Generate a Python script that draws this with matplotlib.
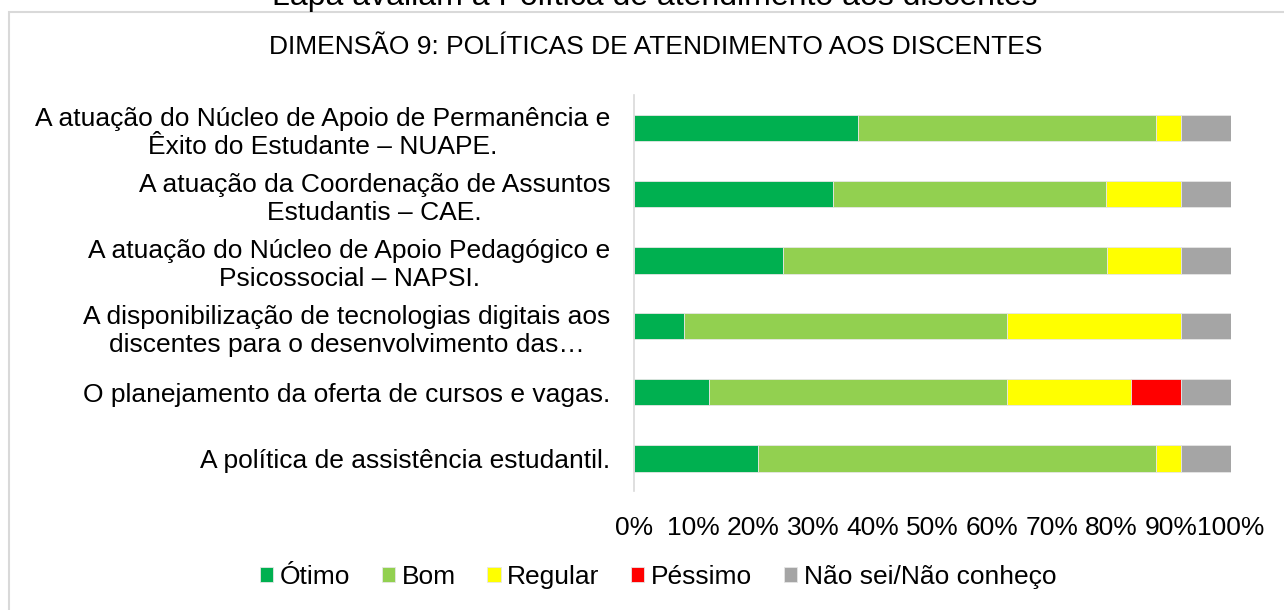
import numpy as np
import matplotlib.pyplot as plt
from matplotlib.patches import Rectangle

plt.rcParams['font.family'] = ['Liberation Sans', 'DejaVu Sans']

# ---- data (share of answers, %) ----
categories = [
    'A atuação do Núcleo de Apoio de Permanência e\nÊxito do Estudante – NUAPE.',
    'A atuação da Coordenação de Assuntos\nEstudantis – CAE.',
    'A atuação do Núcleo de Apoio Pedagógico e\nPsicossocial – NAPSI.',
    'A disponibilização de tecnologias digitais aos\ndiscentes para o desenvolvimento das…',
    'O planejamento da oferta de cursos e vagas.',
    'A política de assistência estudantil.',
]
otimo = [37.5, 33.3, 25.0, 8.3, 12.5, 20.8]
bom = [50.0, 45.8, 54.2, 54.2, 50.0, 66.7]
regular = [4.2, 12.5, 12.5, 29.2, 20.8, 4.2]
pessimo = [0.0, 0.0, 0.0, 0.0, 8.3, 0.0]
nao_sei = [8.3, 8.4, 8.3, 8.3, 8.4, 8.3]

series_names = ['Ótimo', 'Bom', 'Regular', 'Péssimo', 'Não sei/Não conheço']
series_colors = ['#00B050', '#92D050', '#FFFF00', '#FF0000', '#A5A5A5']
x_ticks = np.arange(0, 101, 10)

FS = 19

fig = plt.figure(figsize=(12.84, 6.10), dpi=100)
W, H = 1284, 610

# chart area border (only left/top visible in the crop)
fig.patches.append(Rectangle((9 / W, -0.05), 1.1, 1 - 12 / H + 0.05,
                             transform=fig.transFigure, fill=False,
                             edgecolor='#D9D9D9', linewidth=1.5))

# caption above the chart, cut off by the top edge as in the source
fig.text(655 / W, 1 - 5 / H, 'Lapa avaliam a Política de atendimento aos discentes',
         ha='center', va='baseline', fontsize=23, color='#000000')
fig.text(656 / W, 1 - 47 / H, 'DIMENSÃO 9: POLÍTICAS DE ATENDIMENTO AOS DISCENTES',
         ha='center', va='center', fontsize=FS, color='#000000')

ax = fig.add_axes([634 / W, 1 - 491.3 / H, (1231 - 634) / W, 396 / H])

y = np.arange(len(categories))
left = np.zeros(len(categories))
for vals, name, col in zip([otimo, bom, regular, pessimo, nao_sei], series_names, series_colors):
    vals = np.array(vals)
    ax.barh(y, vals, left=left, height=0.4, color=col, label=name,
            edgecolor='#E6E6E6', linewidth=0.6)
    left += vals

ax.set_xlim(0, 100)
ax.set_ylim(len(categories) - 0.5, -0.5)
ax.set_xticks(x_ticks)
ax.set_xticklabels([f'{t}%' for t in x_ticks], fontsize=FS)
ax.set_yticks(y)
ax.set_yticklabels(categories, fontsize=FS, multialignment='center')
ax.tick_params(axis='x', length=0, pad=18)
ax.tick_params(axis='y', length=0, pad=17)
for s in ['top', 'right', 'bottom']:
    ax.spines[s].set_visible(False)
ax.spines['left'].set_color('#D9D9D9')
ax.spines['left'].set_linewidth(1.2)

handles, labels = ax.get_legend_handles_labels()
fig.legend(handles, labels, loc='center', bbox_to_anchor=(658 / W, 1 - 577 / H),
           ncol=5, frameon=False, fontsize=FS, handlelength=0.5, handleheight=0.5,
           handletextpad=0.25, columnspacing=1.2, borderaxespad=0)

fig.savefig('out.png', dpi=100)
